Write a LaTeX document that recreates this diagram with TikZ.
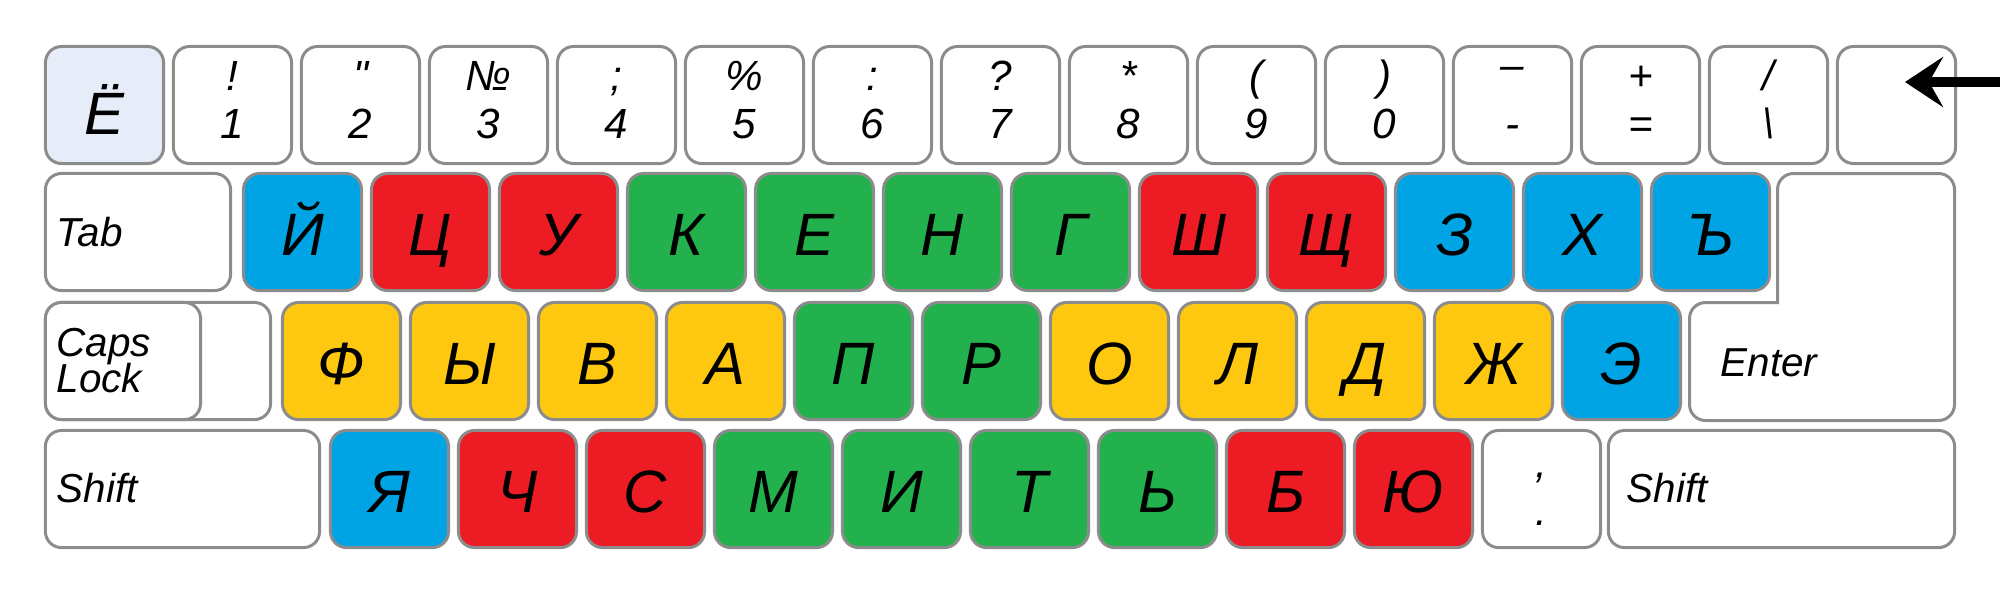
\documentclass[tikz,border=0pt]{standalone}
\usepackage{fontspec}
\setmainfont{Liberation Sans}
\usetikzlibrary{arrows.meta,positioning}
\definecolor{keygray}{RGB}{140,140,140}
\definecolor{kblue}{RGB}{0,164,228}
\definecolor{kred}{RGB}{237,28,36}
\definecolor{kgreen}{RGB}{34,177,76}
\definecolor{kyellow}{RGB}{255,200,16}
\definecolor{kpale}{RGB}{230,237,248}
\tikzset{
  key/.style={draw=keygray,fill=white,line width=0.85pt,rounded corners=0.16cm,minimum width=1.18cm,minimum height=1.17cm,inner sep=0pt,text height=0.47cm,text depth=0pt,font=\fontsize{17}{20}\selectfont\itshape},
  enterkey/.style={draw=keygray,fill=white,line width=0.85pt},
  sym/.style={inner sep=0pt,anchor=base,font=\fontsize{12}{14}\selectfont\itshape},
  lbl/.style={inner sep=0pt,anchor=base west,font=\fontsize{11.5}{12}\selectfont\itshape},
  bsarrow/.style={line width=2.8pt,-{Stealth[length=0.38cm,width=0.5cm,inset=0.14cm]}}
}

\begin{document}
\begin{tikzpicture}[x=0.01cm,y=-0.01cm]
  \useasboundingbox (0,0) rectangle (2000,593);
  % Number row
  \node[key,fill=kpale] (kYo) at (104.5,105) {};
  \node[sym,font=\fontsize{17}{20}\selectfont\itshape] (lYo) at (104.5,134) {Ё};
  \foreach \s/\d [count=\i] in {!/1, {\textquotedbl}/2, №/3, ;/4, {\%}/5, :/6, ?/7, */8, {(}/9, {)}/0, {\raisebox{0.11cm}{–}}/-, +/=, {/}/{\textbackslash}} {
    \node[key] (k\i) at (104.5+128*\i,105) {};
    \node[sym] (s\i) at (104.5+128*\i,90) {\s};
    \node[sym] (d\i) at (104.5+128*\i,138) {\d};
  }
  \node[key] (kBack) at (1896.5,105) {};

  % Top letter row
  \node[key,minimum width=1.85cm] (kTab) at (138,232) {};
  \node[lbl] (lTab) at (56,246) {Tab};
  \foreach \l/\c [count=\j from 0] in {Й/kblue, Ц/kred, У/kred, К/kgreen, Е/kgreen, Н/kgreen, Г/kgreen, Ш/kred, Щ/kred, З/kblue, Х/kblue, Ъ/kblue}
    \node[key,fill=\c] (q\j) at (302.5+128*\j,232) {\l};

  % Enter, spans two rows
  \draw[enterkey] (1777.5,302.5) [rounded corners=0.16cm] -- (1777.5,173.5) -- (1954.5,173.5) -- (1954.5,420.5) -- (1689.5,420.5) -- (1689.5,302.5) [sharp corners] -- cycle;
  \node[lbl] (lEnter) at (1720,376) {Enter};

  % Home row
  \node[key,minimum width=2.25cm] (kCaps) at (158,361) {};
  \node[key,minimum width=1.55cm] (kCapsIn) at (123,361) {};
  \node[lbl] (lCaps) at (56,356) {Caps};
  \node[lbl] (lLock) at (56,392) {Lock};
  \foreach \l/\c [count=\j from 0] in {Ф/kyellow, Ы/kyellow, В/kyellow, А/kyellow, П/kgreen, Р/kgreen, О/kyellow, Л/kyellow, Д/kyellow, Ж/kyellow, Э/kblue}
    \node[key,fill=\c] (a\j) at (341.5+128*\j,361) {\l};

  % Bottom row
  \node[key,minimum width=2.74cm] (kShiftL) at (182.5,489) {};
  \node[lbl] (lShiftL) at (56,502) {Shift};
  \foreach \l/\c [count=\j from 0] in {Я/kblue, Ч/kred, С/kred, М/kgreen, И/kgreen, Т/kgreen, Ь/kgreen, Б/kred, Ю/kred}
    \node[key,fill=\c] (z\j) at (389.5+128*\j,489) {\l};
  \node[key] (kComma) at (1541.5,489) {};
  \node[sym] (sComma) at (1541.5,477) {,};
  \node[sym] (dComma) at (1541.5,525) {.};
  \node[key,minimum width=3.46cm] (kShiftR) at (1781.5,489) {};
  \node[lbl] (lShiftR) at (1626,502) {Shift};

  % Backspace arrow
  \coordinate (arrFrom) at (2010,82);
  \coordinate (arrTo) at (1905,82);
  \draw[bsarrow] (arrFrom) -- (arrTo);
\end{tikzpicture}
\end{document}
